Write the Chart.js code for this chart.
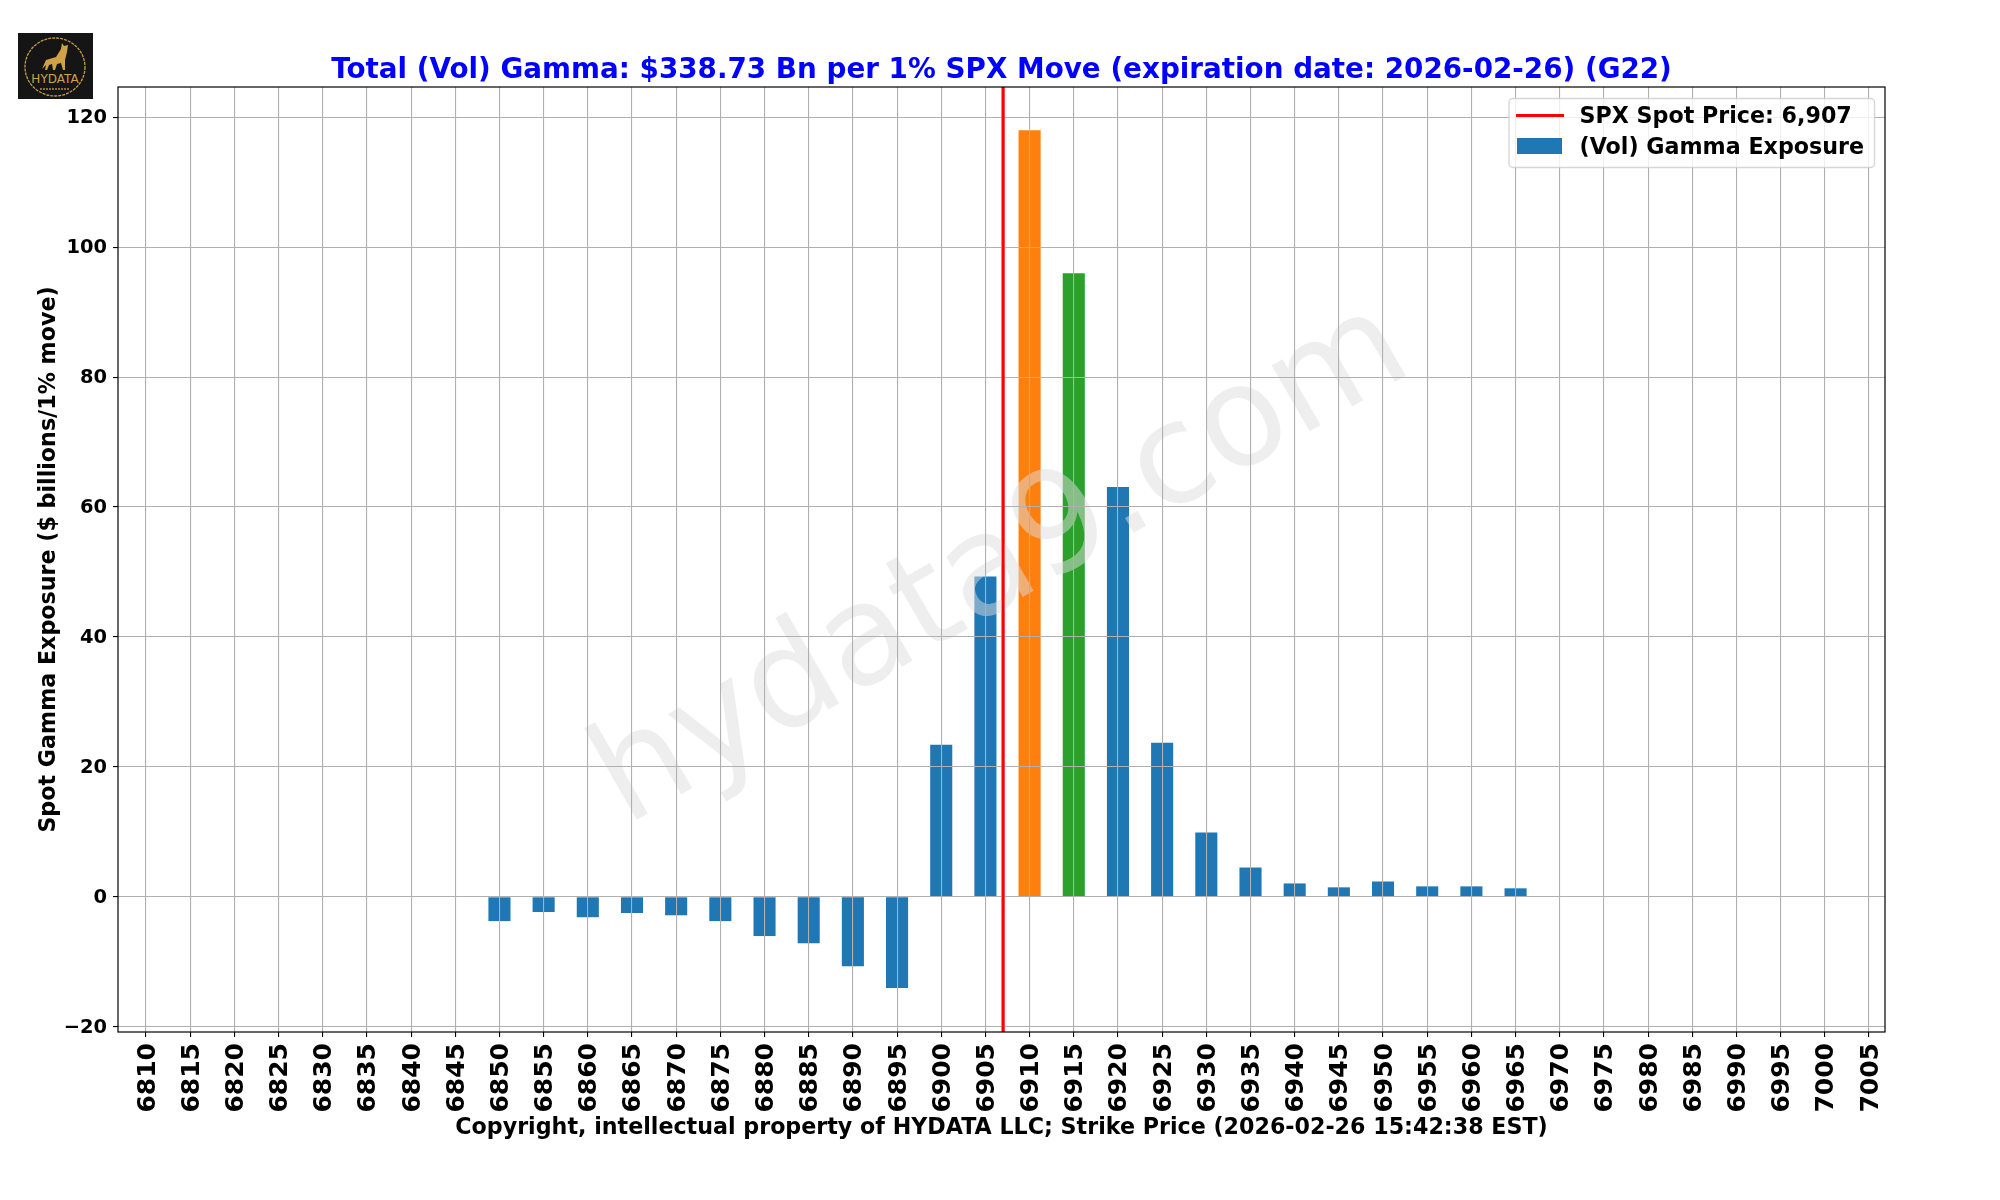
<!DOCTYPE html>
<html>
<head>
<meta charset="utf-8">
<title>Total (Vol) Gamma</title>
<script src="https://cdn.jsdelivr.net/npm/chart.js@4"></script>
<style>
    body { margin: 0; background: #fff; }
    #wrap { position: relative; width: 2000px; height: 1200px; }
    #logo { position: absolute; left: 18px; top: 33px; }
</style>
</head>
<body>
<div id="wrap">
    <canvas id="main-chart" width="2000" height="1200"></canvas>
    <svg id="logo" width="75" height="66" viewBox="0 0 75 66">
        <rect width="75" height="66" fill="#151515"/>
        <ellipse cx="37" cy="34" rx="30" ry="29" fill="none" stroke="#c39c45" stroke-width="1.3" stroke-dasharray="3 1"/>
        <path d="M24 36 L28 27 L38 24 L43 16 L44 10 L46 13 L50 12 L49 19 L47 27 L47 37 L45 37 L43 30 L39 31 L37 37 L35 37 L34 31 L31 32 L29 37 L27 37 L28 32 Z" fill="#d0a248"/>
        <text x="37" y="50" text-anchor="middle" font-family="DejaVu Sans" font-size="12" fill="#d0a248">HYDATA</text>
        <line x1="22" y1="56" x2="52" y2="56" stroke="#8a6f35" stroke-width="2" stroke-dasharray="2 1"/>
    </svg>
</div>
<script>
const strikes = [6810, 6815, 6820, 6825, 6830, 6835, 6840, 6845, 6850, 6855, 6860, 6865, 6870, 6875, 6880, 6885, 6890, 6895, 6900, 6905, 6910, 6915, 6920, 6925, 6930, 6935, 6940, 6945, 6950, 6955, 6960, 6965, 6970, 6975, 6980, 6985, 6990, 6995, 7000, 7005];
const gammaValues = [null, null, null, null, null, null, null, null, -3.75, -2.35, -3.15, -2.5, -2.85, -3.75, -6.05, -7.15, -10.7, -14.05, 23.4, 49.3, 118.0, 96.0, 63.1, 23.7, 9.9, 4.5, 2.05, 1.45, 2.35, 1.6, 1.6, 1.3, null, null, null, null, null, null, null, null];
const yTicks = [-20, 0, 20, 40, 60, 80, 100, 120];
const spotPrice = 6907;
const yMin = -20.82;
const yMax = 124.66;
const xMin = 6806.83;
const xMax = 7006.81;

const BLUE = '#1f77b4';
const barColors = strikes.map(s => s === 6910 ? '#ff7f0e' : s === 6915 ? '#2ca02c' : BLUE);
const FONT = '"DejaVu Sans", sans-serif';

// Everything matplotlib stacks above the bars: watermark under the grid, red line and frame above it
const overlayPlugin = {
    id: 'overlay',
    afterDatasetsDraw(chart) {
        const { ctx } = chart;
        ctx.save();
        ctx.translate(1021, 598);
        ctx.rotate(-30 * Math.PI / 180);
        ctx.font = `138.9px ${FONT}`;
        ctx.textAlign = 'center';
        ctx.textBaseline = 'alphabetic';
        ctx.fillStyle = 'rgba(221, 221, 221, 0.5)';
        ctx.fillText('hydata9.com', 0, 0);
        ctx.restore();
    },
    afterDraw(chart) {
        const { ctx, chartArea } = chart;
        chart.getDatasetMeta(0).controller.draw();

        ctx.save();
        ctx.strokeStyle = '#000';
        ctx.lineWidth = 1.2;
        ctx.strokeRect(chartArea.left, chartArea.top, chartArea.width, chartArea.height);

        // Legend box
        const ds = chart.data.datasets;
        ctx.beginPath();
        ctx.roundRect(1509, 98.5, 365.5, 69, 4);
        ctx.fillStyle = 'rgba(255, 255, 255, 0.8)';
        ctx.fill();
        ctx.strokeStyle = 'rgba(204, 204, 204, 0.8)';
        ctx.lineWidth = 1.4;
        ctx.stroke();

        ctx.strokeStyle = ds[0].borderColor;
        ctx.lineWidth = ds[0].borderWidth;
        ctx.beginPath();
        ctx.moveTo(1516, 115.5);
        ctx.lineTo(1564, 115.5);
        ctx.stroke();
        ctx.fillStyle = BLUE;
        ctx.fillRect(1517, 138, 45, 16);

        ctx.fillStyle = '#000';
        ctx.font = `bold 22.2px ${FONT}`;
        ctx.textAlign = 'left';
        ctx.textBaseline = 'middle';
        ctx.fillText(ds[0].label, 1579.5, 117.5);
        ctx.fillText(ds[1].label, 1579.5, 148.5);
        ctx.restore();
    }
};

new Chart(document.getElementById('main-chart'), {
    type: 'bar',
    data: {
        labels: strikes,
        datasets: [
            {
                type: 'line',
                label: 'SPX Spot Price: 6,907',
                data: [{ x: spotPrice, y: yMin }, { x: spotPrice, y: yMax }],
                borderColor: '#ff0000',
                borderWidth: 2.78,
                pointRadius: 0
            },
            {
                label: '(Vol) Gamma Exposure',
                data: gammaValues,
                backgroundColor: barColors,
                barPercentage: 0.5,
                categoryPercentage: 1
            }
        ]
    },
    options: {
        responsive: false,
        animation: false,
        layout: { padding: { right: 115 } },
        plugins: {
            legend: { display: false },
            tooltip: { enabled: false },
            title: {
                display: true,
                fullSize: false,
                text: 'Total (Vol) Gamma: $338.73 Bn per 1% SPX Move (expiration date: 2026-02-26) (G22)',
                color: '#0000ff',
                font: { family: FONT, size: 27.8, weight: 'bold' },
                padding: { top: 53.64, bottom: 0 }
            }
        },
        scales: {
            x: {
                type: 'linear',
                min: xMin,
                max: xMax,
                offset: false,
                afterBuildTicks: scale => { scale.ticks = strikes.map(value => ({ value })); },
                afterFit: scale => { scale.height = 168; },
                grid: { offset: false, z: 1, color: '#b0b0b0', lineWidth: 1.1, tickColor: '#000', tickLength: 5 },
                border: { display: false },
                ticks: {
                    autoSkip: false,
                    minRotation: 90,
                    maxRotation: 90,
                    padding: 6,
                    labelOffset: 2,
                    color: '#000',
                    font: { family: FONT, size: 25, weight: 'bold' },
                    callback: value => String(value)
                },
                title: {
                    display: true,
                    text: 'Copyright, intellectual property of HYDATA LLC; Strike Price (2026-02-26 15:42:38 EST)',
                    color: '#000',
                    font: { family: FONT, size: 22.2, weight: 'bold' },
                    padding: { top: 0, bottom: 58 }
                }
            },
            y: {
                min: yMin,
                max: yMax,
                afterBuildTicks: scale => { scale.ticks = yTicks.map(value => ({ value })); },
                afterFit: scale => { scale.width = 118; },
                grid: { z: 1, color: '#b0b0b0', lineWidth: 1.1, tickColor: '#000', tickLength: 5 },
                border: { display: false },
                ticks: {
                    padding: 6,
                    labelOffset: 1,
                    color: '#000',
                    font: { family: FONT, size: 19.44, weight: 'bold' },
                    callback: value => String(value).replace('-', '\u2212')
                },
                title: {
                    display: true,
                    text: 'Spot Gamma Exposure ($ billions/1% move)',
                    color: '#000',
                    font: { family: FONT, size: 22.2, weight: 'bold' },
                    padding: { top: 36, bottom: 0 }
                }
            }
        }
    },
    plugins: [overlayPlugin]
});
</script>
</body>
</html>
